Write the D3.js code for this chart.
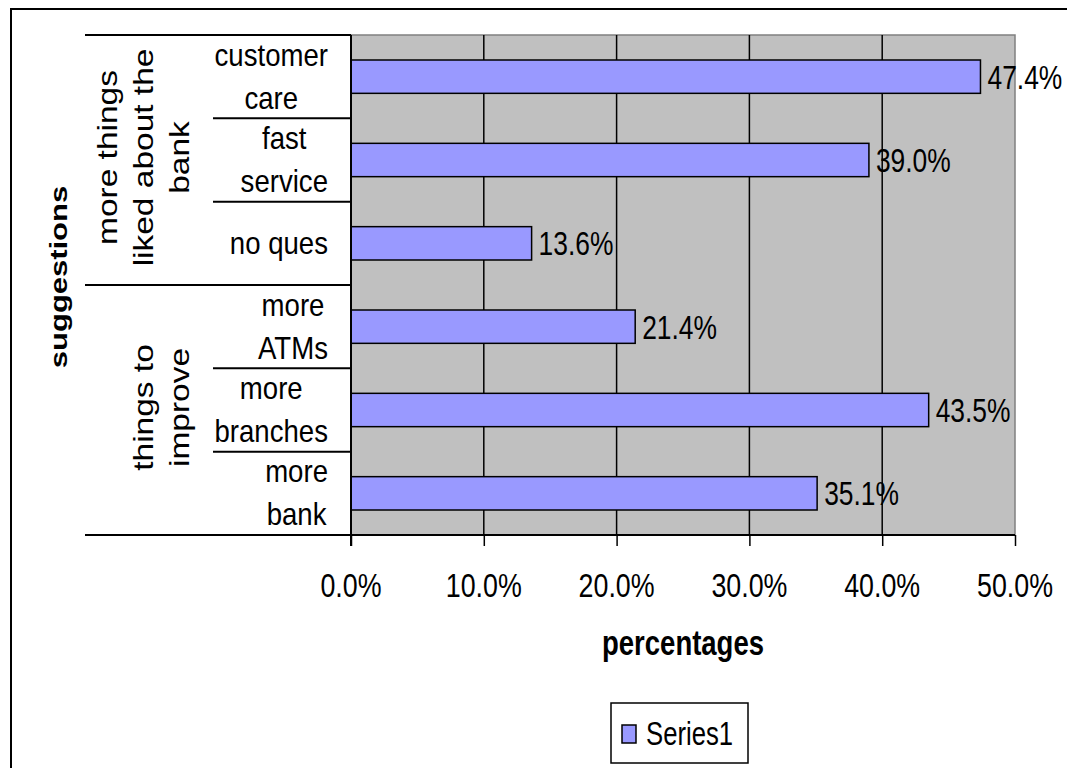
<!DOCTYPE html>
<html>
<head>
<meta charset="utf-8">
<script src="https://cdn.jsdelivr.net/npm/d3@7"></script>
<style>
  html, body { margin: 0; padding: 0; background: #fff; }
  svg { display: block; }
  text { font-family: "Liberation Sans", Arial, sans-serif; fill: #000; }
</style>
</head>
<body>
<svg id="chart" width="1067" height="768"></svg>
<script>
// Survey responses: share of respondents per suggestion
const groups = ["more things liked about the bank", "things to improve"];
const groupLines = [["more things", "liked about the", "bank"], ["things to", "improve"]];
const categories = ["customer care", "fast service", "no ques", "more ATMs", "more branches", "more bank"];
const categoryLines = [["customer", "care"], ["fast", "service"], ["no ques"], ["more", "ATMs"], ["more", "branches"], ["more", "bank"]];
const categoryGroup = [0, 0, 0, 1, 1, 1];
const values = [47.4, 39.0, 13.6, 21.4, 43.5, 35.1];
const tickValues = [0, 10, 20, 30, 40, 50];
const seriesName = "Series1";
const xTitle = "percentages";
const yTitle = "suggestions";

const svg = d3.select("#chart");
const plot = { left: 351, right: 1015, top: 35, bottom: 535 };
const barColor = "#9999FF";
const FS = 26.4;      // base font size
const SY = 1.27;      // vertical stretch of the text

const x = d3.scaleLinear().domain([0, 50]).range([plot.left, plot.right]);
const y = d3.scaleBand().domain(categories).range([plot.top, plot.bottom])
  .paddingInner(0.6).paddingOuter(0.3);
const step = y.step();

// stretched text helper
function label(parent, tx, ty, str, opts = {}) {
  const g = parent.append("g")
    .attr("transform", `translate(${tx},${ty}) scale(1,${opts.sy ?? SY})${opts.rotate ? " rotate(-90)" : ""}`);
  return g.append("text")
    .attr("font-size", opts.size ?? FS)
    .attr("font-weight", opts.bold ? "bold" : null)
    .attr("text-anchor", opts.anchor ?? "start")
    .text(str);
}

// outer frame
svg.append("rect").attr("x", 11).attr("y", 9).attr("width", 1120).attr("height", 820)
  .attr("fill", "#fff").attr("stroke", "#000").attr("stroke-width", 2);

// plot background
svg.append("rect").attr("x", plot.left).attr("y", plot.top)
  .attr("width", plot.right - plot.left).attr("height", plot.bottom - plot.top)
  .attr("fill", "#C0C0C0");

// plot border (top and right)
svg.append("path")
  .attr("d", `M${plot.left},${plot.top}H${plot.right}V${plot.bottom}`)
  .attr("fill", "none").attr("stroke", "#808080").attr("stroke-width", 1.5);

// vertical gridlines
svg.append("g").selectAll("line").data(tickValues.filter(t => t > 0 && t < 50)).join("line")
  .attr("x1", d => x(d)).attr("x2", d => x(d))
  .attr("y1", plot.top).attr("y2", plot.bottom)
  .attr("stroke", "#000").attr("stroke-width", 1.5);

// bars
svg.append("g").selectAll("rect").data(values).join("rect")
  .attr("x", x(0))
  .attr("y", (d, i) => y(categories[i]))
  .attr("width", d => x(d) - x(0))
  .attr("height", y.bandwidth())
  .attr("fill", barColor).attr("stroke", "#000").attr("stroke-width", 1.5);

// value labels
const vl = svg.append("g");
values.forEach((v, i) => {
  label(vl, x(v) + 7, y(categories[i]) + y.bandwidth() / 2 + 12, v.toFixed(1) + "%");
});

// x axis
const xAxis = d3.axisBottom(x).tickValues(tickValues).tickSize(11).tickFormat(() => "");
const xa = svg.append("g").attr("transform", `translate(0,${plot.bottom})`).call(xAxis);
xa.select(".domain").remove();
xa.selectAll(".tick line").attr("stroke", "#000").attr("stroke-width", 1.5);
tickValues.forEach(t => {
  label(svg, x(t), plot.bottom + 62, d3.format(".1f")(t) + "%", { anchor: "middle", size: 26.8 });
});

// left axis line
svg.append("line").attr("x1", plot.left).attr("x2", plot.left)
  .attr("y1", plot.top).attr("y2", plot.bottom + 11)
  .attr("stroke", "#000").attr("stroke-width", 2);
// bottom axis line
svg.append("line").attr("x1", plot.left).attr("x2", plot.right)
  .attr("y1", plot.bottom).attr("y2", plot.bottom)
  .attr("stroke", "#000").attr("stroke-width", 2);

// category separators: group boundaries span both label columns
const groupStart = groups.map((g, gi) => categoryGroup.indexOf(gi));
const sep = svg.append("g").attr("stroke", "#000").attr("stroke-width", 2);
groupStart.concat([categories.length]).forEach(idx => {
  const yy = plot.top + idx * step;
  sep.append("line").attr("x1", 85).attr("x2", plot.left).attr("y1", yy).attr("y2", yy);
});
categories.forEach((c, i) => {
  if (i > 0 && categoryGroup[i] === categoryGroup[i - 1]) {
    const yy = plot.top + i * step;
    sep.append("line").attr("x1", 213).attr("x2", plot.left).attr("y1", yy).attr("y2", yy);
  }
});

// category labels: block right-aligned, lines centered within the block
const cl = svg.append("g");
categories.forEach((c, i) => {
  const lines = categoryLines[i];
  const cy = plot.top + (i + 0.5) * step;
  const nodes = lines.map((ln, li) => {
    const by = cy + 10.5 + (li - (lines.length - 1) / 2) * 43;
    return label(cl, 0, by, ln, { anchor: "middle", size: 27.6, sy: 1.12 });
  });
  const maxW = d3.max(nodes, n => n.node().getComputedTextLength());
  nodes.forEach(n => {
    const g = d3.select(n.node().parentNode);
    const t = g.attr("transform").replace(/translate\(0,/, `translate(${328 - maxW / 2},`);
    g.attr("transform", t);
  });
});

// group labels (rotated)
const gl = svg.append("g");
groups.forEach((g, gi) => {
  const idx = categories.map((c, i) => i).filter(i => categoryGroup[i] === gi);
  const cy = plot.top + (d3.min(idx) + (d3.max(idx) + 1 - d3.min(idx)) / 2) * step - 2.5;
  const lines = groupLines[gi];
  lines.forEach((ln, li) => {
    const bx = 189 - (lines.length - 1 - li) * 36;
    label(gl, bx, cy, ln, { anchor: "middle", rotate: true, size: 27, sy: 1.24 });
  });
});

// axis titles
label(svg, 67, 277, yTitle, { anchor: "middle", rotate: true, bold: true, size: 24, sy: 1.29 });
label(svg, (plot.left + plot.right) / 2, 655, xTitle, { anchor: "middle", bold: true, size: 27.5 });

// legend
const lg = svg.append("g");
lg.append("rect").attr("x", 611).attr("y", 703).attr("width", 137).attr("height", 60)
  .attr("fill", "#fff").attr("stroke", "#000").attr("stroke-width", 1.5);
lg.append("rect").attr("x", 622).attr("y", 725).attr("width", 14).attr("height", 18)
  .attr("fill", barColor).attr("stroke", "#000").attr("stroke-width", 1.5);
label(lg, 646, 745, seriesName, { size: 25.7 });
</script>
</body>
</html>
